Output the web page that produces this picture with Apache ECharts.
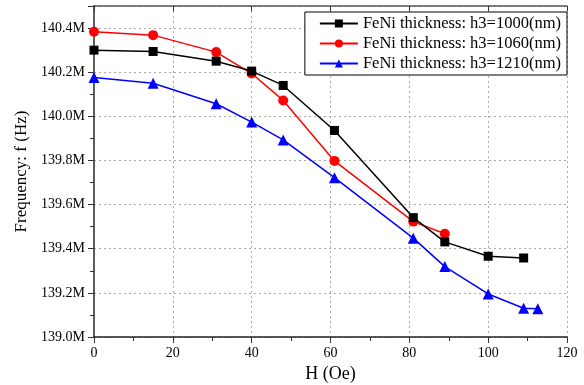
<!DOCTYPE html>
<html><head><meta charset="utf-8">
<script src="https://cdn.jsdelivr.net/npm/echarts@6/dist/echarts.min.js"></script>
<style>html,body{margin:0;padding:0;background:#fff}#c{width:584px;height:385px}</style>
</head><body><div id="c"></div>
<script>
const seriesNames = ['FeNi thickness: h3=1000(nm)', 'FeNi thickness: h3=1060(nm)', 'FeNi thickness: h3=1210(nm)'];
const h1000 = [0, 15, 31, 40, 48, 61, 81, 89, 100, 109];
const f1000 = [140.30, 140.294, 140.25, 140.205, 140.14, 139.936, 139.541, 139.431, 139.366, 139.358];
const h1060 = [0, 15, 31, 40, 48, 61, 81, 89];
const f1060 = [140.383, 140.368, 140.291, 140.194, 140.072, 139.798, 139.523, 139.468];
const h1210 = [0, 15, 31, 40, 48, 61, 81, 89, 100, 109, 112.6];
const f1210 = [140.176, 140.15, 140.057, 139.974, 139.893, 139.722, 139.448, 139.319, 139.195, 139.13, 139.128];
const colors = ['#000000', '#ff0000', '#0000ff'];
const symbols = ['rect', 'circle', 'triangle'];
const symSizes = [9, 10, 11];

const font = '"Liberation Serif", "DejaVu Serif", serif';
const zip = (a, b) => a.map((v, i) => [v, b[i]]);
const datas = [zip(h1000, f1000), zip(h1060, f1060), zip(h1210, f1210)];

const chart = echarts.init(document.getElementById('c'));
const frameLine = { show: true, lineStyle: { color: '#555', width: 1.5 } };
chart.setOption({
  animation: false,
  backgroundColor: '#fff',
  grid: { left: 94, right: 17, top: 6, bottom: 48, containLabel: false, outerBoundsMode: 'none' },
  legend: {
    orient: 'vertical', right: 17, top: 12,
    itemWidth: 38, itemHeight: 10, itemGap: 3,
    padding: [3, 6, 3, 14],
    borderColor: '#000', borderWidth: 1, backgroundColor: '#fff',
    textStyle: { fontFamily: font, fontSize: 16.5, color: '#000' },
    data: seriesNames
  },
  xAxis: [{
    type: 'value', min: 0, max: 120, interval: 20,
    name: 'H (Oe)', nameLocation: 'middle', nameGap: 24,
    nameTextStyle: { fontFamily: font, fontSize: 18, color: '#000' },
    axisLine: { show: true, lineStyle: { color: '#222', width: 1.5 } },
    axisTick: { show: true, inside: false, length: 6, lineStyle: { color: '#333' } },
    minorTick: { show: true, splitNumber: 2, length: 4, lineStyle: { color: '#333' } },
    axisLabel: { fontFamily: font, fontSize: 14, color: '#000', margin: 9 },
    splitLine: { show: true, lineStyle: { color: '#aaa', type: [2, 3], width: 1 } }
  }, {
    type: 'value', min: 0, max: 120, interval: 20, position: 'top',
    axisLine: frameLine,
    axisTick: { show: true, inside: true, length: 5, lineStyle: { color: '#333' } },
    minorTick: { show: false },
    axisLabel: { show: false }, splitLine: { show: false }
  }],
  yAxis: [{
    type: 'value', min: 139.0, max: 140.5, interval: 0.2,
    name: 'Frequency: f (Hz)', nameLocation: 'middle', nameGap: 64,
    nameTextStyle: { fontFamily: font, fontSize: 17, color: '#000' },
    axisLine: { show: true, lineStyle: { color: '#777', width: 2 } },
    axisTick: { show: true, inside: false, length: 6, lineStyle: { color: '#333' } },
    minorTick: { show: true, splitNumber: 2, length: 4, lineStyle: { color: '#333' } },
    axisLabel: { fontFamily: font, fontSize: 14, color: '#000', margin: 9, showMaxLabel: false,
      formatter: v => v > 140.45 ? '' : v.toFixed(1) + 'M' },
    splitLine: { show: true, lineStyle: { color: '#aaa', type: [2, 3], width: 1 } }
  }, {
    type: 'value', min: 139.0, max: 140.5, interval: 0.2, position: 'right',
    axisLine: frameLine,
    axisTick: { show: true, inside: true, length: 5, lineStyle: { color: '#333' } },
    minorTick: { show: true, splitNumber: 2, length: 3, lineStyle: { color: '#333' } },
    axisLabel: { show: false }, splitLine: { show: false }
  }],
  series: seriesNames.map((n, i) => ({
    name: n, type: 'line', data: datas[i],
    symbol: symbols[i], symbolSize: symSizes[i],
    lineStyle: { color: colors[i], width: 1.5 },
    itemStyle: { color: colors[i] },
    z: 3 - i
  }))
});
</script></body></html>
